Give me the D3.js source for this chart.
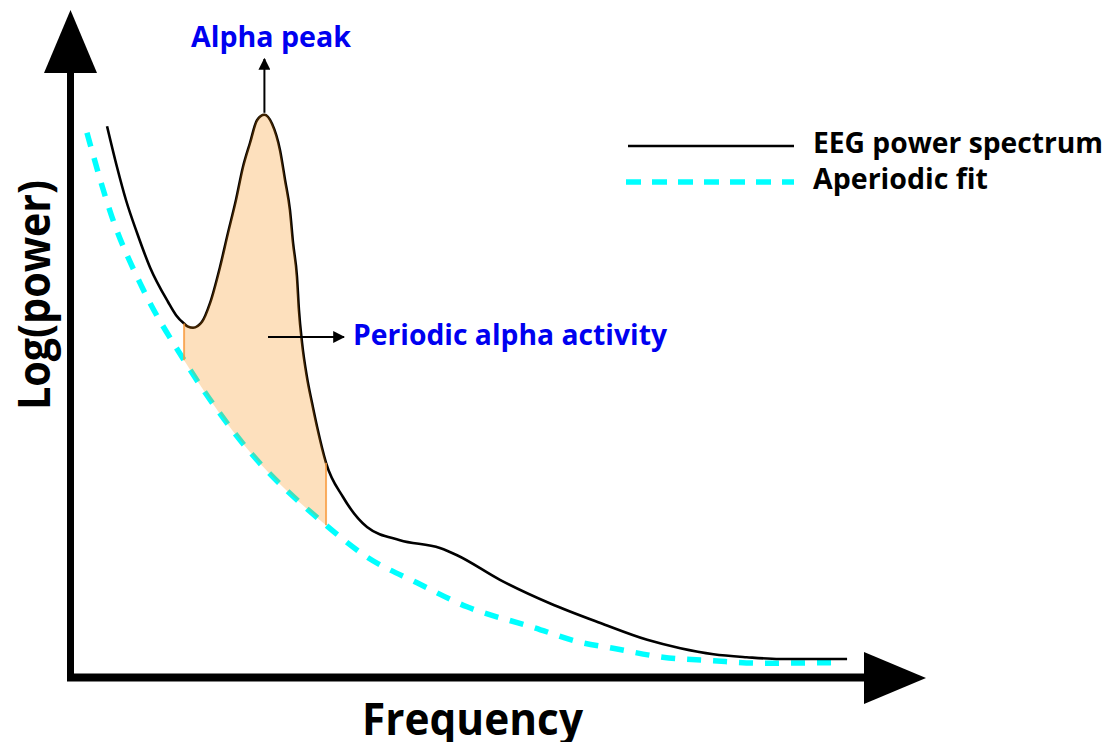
<!DOCTYPE html>
<html>
<head>
<meta charset="utf-8">
<script src="https://cdn.jsdelivr.net/npm/d3@7"></script>
<style>
	body { margin: 0; background: #fff; }
	svg text { font-family: "Open Sans", "DejaVu Sans", sans-serif; font-weight: 700; }
</style>
</head>
<body>
<svg id="chart" width="1112" height="742"></svg>
<script>
// data (frequency in Hz, log power in arbitrary units)
var specFreq  = [1.90, 2.41, 2.87, 3.44, 4.10, 5.03, 5.44, 5.85, 6.05, 6.31, 6.77, 7.18, 7.69, 8.10, 8.51, 8.87, 9.23, 9.59, 9.97, 10.36, 10.77, 11.03, 11.28, 11.44, 11.64, 11.74, 11.90, 12.15, 12.41, 12.67, 13.13, 14.0, 15.23, 16.92, 18.97, 19.85, 22.05, 24.6, 27.2, 29.6, 31.3, 33.0, 34.7, 36.4, 39.85];
var specPower = [9.18, 8.50, 7.95, 7.40, 6.83, 6.25, 6.03, 5.89, 5.84, 5.82, 5.92, 6.23, 6.83, 7.40, 7.95, 8.50, 8.90, 9.28, 9.37, 9.22, 8.78, 8.28, 7.78, 7.23, 6.67, 6.12, 5.57, 5.00, 4.57, 4.17, 3.57, 3.00, 2.50, 2.28, 2.15, 2.03, 1.62, 1.23, 0.90, 0.62, 0.48, 0.38, 0.33, 0.30, 0.30];

var apFreq  = [0.87, 2.15, 3.69, 5.85, 8.72, 13.13, 15.23, 17.8, 20.36, 23.74, 26.15, 27.85, 30.4, 33.0, 35.5, 39.1];
var apPower = [9.07, 7.67, 6.50, 5.28, 3.95, 2.53, 2.00, 1.57, 1.17, 0.83, 0.58, 0.48, 0.33, 0.27, 0.23, 0.24];

// alpha band that is shaded between the two curves
var alphaBand = [5.85, 13.13];
var alphaPeakFreq = 9.97;

var legendLabels = ["EEG power spectrum", "Aperiodic fit"];
var xLabel = "Frequency";
var yLabel = "Log(power)";
var peakLabel = "Alpha peak";
var bandLabel = "Periodic alpha activity";

var svg = d3.select("#chart");

var x = d3.scaleLinear().domain([0, 40]).range([70, 850]);
var y = d3.scaleLinear().domain([0, 10]).range([677, 77]);

var spec = specFreq.map(function (f, i) { return {f: f, p: specPower[i]}; });
var ap = apFreq.map(function (f, i) { return {f: f, p: apPower[i]}; });

var line = d3.line()
	.x(function (d) { return x(d.f); })
	.y(function (d) { return y(d.p); })
	.curve(d3.curveMonotoneX);

var defs = svg.append("defs");

// arrow head for the small annotation arrows
defs.append("marker")
	.attr("id", "tip")
	.attr("viewBox", "0 -5 10 10")
	.attr("refX", 9).attr("refY", 0)
	.attr("markerWidth", 12).attr("markerHeight", 12)
	.attr("markerUnits", "userSpaceOnUse")
	.attr("orient", "auto")
	.append("path")
	.attr("d", "M0,-5 L10,0 L0,5 Z")
	.attr("fill", "#000");

// clip: only the part above the aperiodic fit, and only inside the band
defs.append("clipPath").attr("id", "aboveFit")
	.append("path")
	.attr("d", d3.area()
		.x(function (d) { return x(d.f); })
		.y0(0)
		.y1(function (d) { return y(d.p); })
		.curve(d3.curveMonotoneX)(ap));

defs.append("clipPath").attr("id", "band")
	.append("rect")
	.attr("x", x(alphaBand[0]))
	.attr("width", x(alphaBand[1]) - x(alphaBand[0]))
	.attr("y", 0).attr("height", 742);

// axes drawn as thick arrows
svg.append("line")
	.attr("x1", 70.5).attr("y1", 681).attr("x2", 70.5).attr("y2", 70)
	.attr("stroke", "#000").attr("stroke-width", 7);
svg.append("path")
	.attr("d", "M44,73 L97,73 L70.5,10 Z")
	.attr("fill", "#000");

svg.append("line")
	.attr("x1", 67).attr("y1", 677.5).attr("x2", 866).attr("y2", 677.5)
	.attr("stroke", "#000").attr("stroke-width", 8);
svg.append("path")
	.attr("d", "M864,652 L864,704 L926,678 Z")
	.attr("fill", "#000");

// aperiodic fit
svg.append("path")
	.datum(ap)
	.attr("d", line)
	.attr("fill", "none")
	.attr("stroke", "#00ffff")
	.attr("stroke-width", 5.5)
	.attr("stroke-dasharray", "14,12");

// power spectrum
svg.append("path")
	.datum(spec)
	.attr("d", line)
	.attr("fill", "none")
	.attr("stroke", "#000")
	.attr("stroke-width", 2.6);

// shaded periodic part, laid over the lines
svg.append("g")
	.attr("clip-path", "url(#band)")
	.append("path")
	.datum(spec)
	.attr("clip-path", "url(#aboveFit)")
	.attr("d", d3.area()
		.x(function (d) { return x(d.f); })
		.y0(742)
		.y1(function (d) { return y(d.p) - 1.3; })
		.curve(d3.curveMonotoneX))
	.attr("fill", "#f68700")
	.attr("fill-opacity", 0.26);

// orange edges of the band
alphaBand.forEach(function (f) {
	var s = spec.filter(function (d) { return d.f == f; })[0];
	var a = ap.filter(function (d) { return d.f == f; })[0];
	svg.append("line")
		.attr("x1", x(f)).attr("x2", x(f))
		.attr("y1", y(s.p)).attr("y2", y(a.p))
		.attr("stroke", "#f89a3c")
		.attr("stroke-opacity", 0.8)
		.attr("stroke-width", 2);
});

// alpha peak arrow + label
var peak = spec.filter(function (d) { return d.f == alphaPeakFreq; })[0];
svg.append("line")
	.attr("x1", x(peak.f)).attr("x2", x(peak.f))
	.attr("y1", y(peak.p) - 2).attr("y2", 59)
	.attr("stroke", "#000").attr("stroke-width", 2)
	.attr("marker-end", "url(#tip)");

svg.append("text")
	.attr("x", 191).attr("y", 47)
	.attr("font-size", 29)
	.attr("textLength", 160).attr("lengthAdjust", "spacingAndGlyphs")
	.attr("fill", "#0000f0")
	.text(peakLabel);

svg.append("line")
	.attr("x1", 268).attr("x2", 344)
	.attr("y1", 337).attr("y2", 337)
	.attr("stroke", "#000").attr("stroke-width", 2)
	.attr("marker-end", "url(#tip)");

svg.append("text")
	.attr("x", 353).attr("y", 345)
	.attr("font-size", 29)
	.attr("textLength", 314).attr("lengthAdjust", "spacingAndGlyphs")
	.attr("fill", "#0000f0")
	.text(bandLabel);

// legend
var legendY = [146, 182];
svg.append("line")
	.attr("x1", 628).attr("x2", 794)
	.attr("y1", legendY[0]).attr("y2", legendY[0])
	.attr("stroke", "#000").attr("stroke-width", 2.6);
svg.append("line")
	.attr("x1", 626).attr("x2", 794)
	.attr("y1", legendY[1]).attr("y2", legendY[1])
	.attr("stroke", "#00ffff").attr("stroke-width", 5.5)
	.attr("stroke-dasharray", "15,11");

var legendWidths = [290, 175];
legendLabels.forEach(function (t, i) {
	svg.append("text")
		.attr("x", 813).attr("y", legendY[i] + 7)
		.attr("font-size", 28)
		.attr("textLength", legendWidths[i]).attr("lengthAdjust", "spacingAndGlyphs")
		.attr("fill", "#000")
		.text(t);
});

// axis titles
svg.append("text")
	.attr("x", 362).attr("y", 735)
	.attr("font-size", 45)
	.attr("textLength", 221).attr("lengthAdjust", "spacingAndGlyphs")
	.attr("fill", "#000")
	.text(xLabel);

svg.append("text")
	.attr("transform", "translate(50,410) rotate(-90)")
	.attr("x", 0).attr("y", 0)
	.attr("font-size", 45)
	.attr("textLength", 230).attr("lengthAdjust", "spacingAndGlyphs")
	.attr("fill", "#000")
	.text(yLabel);
</script>
</body>
</html>
